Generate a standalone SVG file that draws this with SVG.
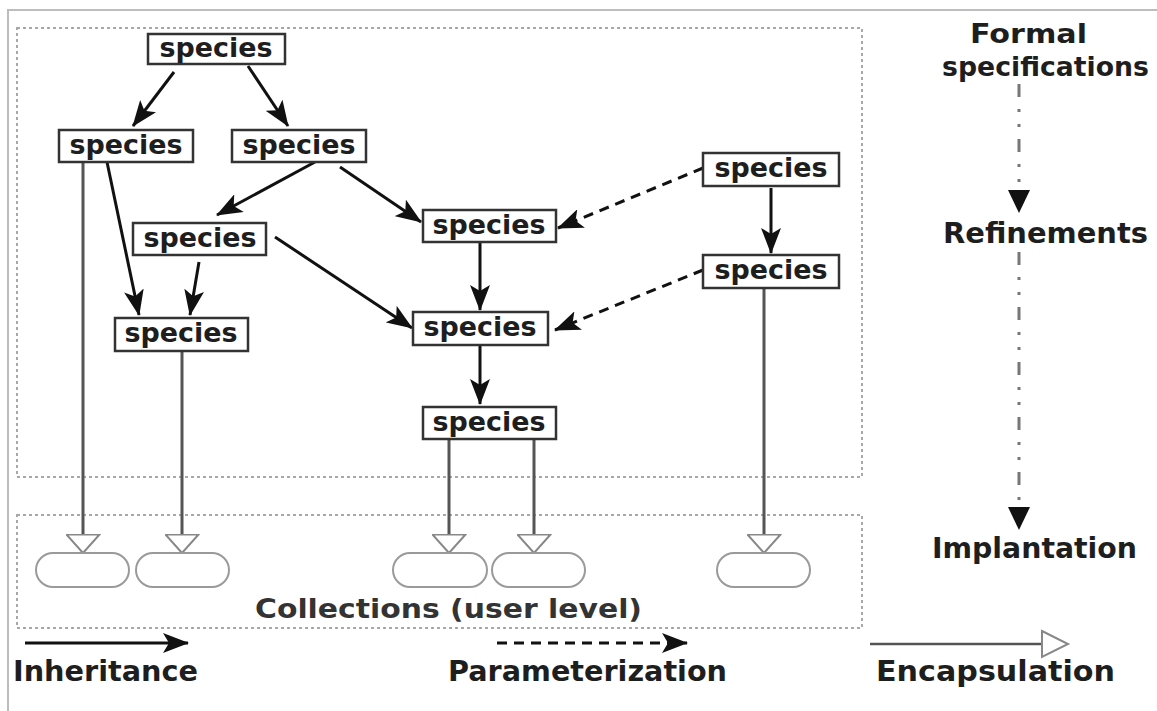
<svg xmlns="http://www.w3.org/2000/svg" width="1157" height="711" viewBox="0 0 1157 711">
  <style>
    .frame { fill: none; stroke: #bdbdbd; stroke-width: 2; }
    .zone { fill: none; stroke: #a8a8a8; stroke-width: 2; stroke-dasharray: 3 3; }
    .node rect { fill: #ffffff; stroke: #333333; stroke-width: 2.5; }
    .node text, .label { font-family: "DejaVu Sans", "Verdana", sans-serif; font-weight: bold; fill: #1e1e1e; }
    .node text { font-size: 27px; text-anchor: middle; }
    .label { font-size: 28px; }
    .inherit { fill: none; stroke: #111111; stroke-width: 3; marker-end: url(#head); }
    .param { fill: none; stroke: #111111; stroke-width: 3; stroke-dasharray: 10 7; marker-end: url(#head); }
    .encap { fill: none; stroke: #555555; stroke-width: 3; marker-end: url(#hollow); }
    .coll { fill: #ffffff; stroke: #9a9a9a; stroke-width: 2; }
    .level { fill: none; stroke: #777777; stroke-width: 3; stroke-dasharray: 13 12 3 12 3 12; }
  </style>
  <defs>
    <marker id="head" viewBox="0 0 26 20" markerWidth="26" markerHeight="20" refX="25" refY="10" markerUnits="userSpaceOnUse" orient="auto">
      <path d="M0,0 L26,10 L0,20 L6,10 z" fill="#111111"/>
    </marker>
    <marker id="hollow" viewBox="0 0 21 35" markerWidth="21" markerHeight="35" refX="19.5" refY="17.5" markerUnits="userSpaceOnUse" orient="auto">
      <path d="M1,1 L19.5,17.5 L1,34 z" fill="#ffffff" stroke="#888888" stroke-width="2"/>
    </marker>
  </defs>

  <rect width="1157" height="711" fill="#ffffff"/>
  <!-- page border -->
  <path class="frame" d="M8,711 L8,10 L1157,10"/>

  <!-- zones: formal specifications and collections -->
  <rect class="zone" x="17" y="28" width="845" height="449"/>
  <rect class="zone" x="17" y="515" width="845" height="113"/>
  <text class="label" x="255" y="618" textLength="387" lengthAdjust="spacingAndGlyphs" style="fill:#333333;font-size:26px">Collections (user level)</text>

  <!-- level axis -->
  <g id="levels">
    <text class="label" x="970" y="43" textLength="117" lengthAdjust="spacingAndGlyphs" style="font-size:27px">Formal</text>
    <text class="label" x="942" y="76" textLength="207" lengthAdjust="spacingAndGlyphs" style="font-size:27px">specifications</text>
    <text class="label" x="943" y="243" textLength="205" lengthAdjust="spacingAndGlyphs">Refinements</text>
    <text class="label" x="932" y="558" textLength="205" lengthAdjust="spacingAndGlyphs">Implantation</text>
    <path class="level" d="M1019,84 L1019,190"/>
    <path d="M1008,190 L1030,190 L1019,213 z" fill="#111111"/>
    <path class="level" d="M1019,252 L1019,507"/>
    <path d="M1008,507 L1030,507 L1019,530 z" fill="#111111"/>
  </g>

  <!-- connectors -->
  <g id="connectors">
    <path class="inherit" d="M174,72 L133,126"/>
    <path class="inherit" d="M248,66 L288,126"/>
    <path class="inherit" d="M315,162 L217,215"/>
    <path class="inherit" d="M340,167 L421,222"/>
    <path class="inherit" d="M107,162 L139,315"/>
    <path class="inherit" d="M199,262 L190,315"/>
    <path class="inherit" d="M275,237 L412,328"/>
    <path class="inherit" d="M480,242 L480,310"/>
    <path class="inherit" d="M480,345 L480,404"/>
    <path class="inherit" d="M771,188 L771,253"/>
    <path class="param" d="M703,168 L558,228"/>
    <path class="param" d="M703,270 L555,330"/>
    <path class="encap" d="M83,162 L83,553"/>
    <path class="encap" d="M182,351 L182,553"/>
    <path class="encap" d="M449,439 L449,553"/>
    <path class="encap" d="M534,439 L534,553"/>
    <path class="encap" d="M764,288 L764,553"/>
  </g>

  <!-- species nodes -->
  <g id="n1" class="node"><rect x="148" y="34" width="137" height="30"/><text x="216" y="57" textLength="113" lengthAdjust="spacingAndGlyphs">species</text></g>
  <g id="n2" class="node"><rect x="59" y="130" width="134" height="32"/><text x="126" y="154" textLength="113" lengthAdjust="spacingAndGlyphs">species</text></g>
  <g id="n3" class="node"><rect x="232" y="130" width="134" height="32"/><text x="299" y="154" textLength="113" lengthAdjust="spacingAndGlyphs">species</text></g>
  <g id="n4" class="node"><rect x="133" y="223" width="133" height="32"/><text x="200" y="247" textLength="113" lengthAdjust="spacingAndGlyphs">species</text></g>
  <g id="n5" class="node"><rect x="115" y="318" width="133" height="33"/><text x="181" y="342" textLength="113" lengthAdjust="spacingAndGlyphs">species</text></g>
  <g id="n6" class="node"><rect x="423" y="210" width="133" height="32"/><text x="489" y="234" textLength="113" lengthAdjust="spacingAndGlyphs">species</text></g>
  <g id="n7" class="node"><rect x="413" y="312" width="135" height="33"/><text x="480" y="336" textLength="113" lengthAdjust="spacingAndGlyphs">species</text></g>
  <g id="n8" class="node"><rect x="703" y="153" width="136" height="33"/><text x="771" y="177" textLength="113" lengthAdjust="spacingAndGlyphs">species</text></g>
  <g id="n9" class="node"><rect x="703" y="255" width="136" height="33"/><text x="771" y="279" textLength="113" lengthAdjust="spacingAndGlyphs">species</text></g>
  <g id="n10" class="node"><rect x="423" y="407" width="133" height="32"/><text x="489" y="431" textLength="113" lengthAdjust="spacingAndGlyphs">species</text></g>

  <!-- collections -->
  <g id="c1"><rect class="coll" x="36" y="553" width="93" height="34" rx="17"/></g>
  <g id="c2"><rect class="coll" x="136" y="553" width="93" height="34" rx="17"/></g>
  <g id="c3"><rect class="coll" x="393" y="553" width="94" height="34" rx="17"/></g>
  <g id="c4"><rect class="coll" x="492" y="553" width="93" height="34" rx="17"/></g>
  <g id="c5"><rect class="coll" x="717" y="553" width="93" height="34" rx="17"/></g>

  <!-- legend -->
  <g id="legend">
    <path class="inherit" d="M25,643 L188,643"/>
    <text class="label" x="13" y="681" textLength="185" lengthAdjust="spacingAndGlyphs">Inheritance</text>
    <path class="param" d="M497,643 L687,643"/>
    <text class="label" x="448" y="681" textLength="279" lengthAdjust="spacingAndGlyphs">Parameterization</text>
    <path d="M870,644 L1042,644" fill="none" stroke="#555555" stroke-width="2.5"/>
    <path d="M1042,631 L1068,644 L1042,657 z" fill="#ffffff" stroke="#888888" stroke-width="2"/>
    <text class="label" x="876" y="681" textLength="239" lengthAdjust="spacingAndGlyphs">Encapsulation</text>
  </g>
</svg>
